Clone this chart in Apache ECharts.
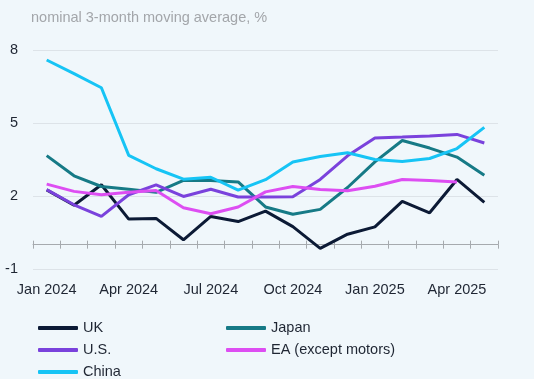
<!DOCTYPE html>
<html>
<head>
<meta charset="utf-8">
<script src="https://cdn.jsdelivr.net/npm/echarts@6/dist/echarts.min.js"></script>
<style>
html,body{margin:0;padding:0;background:#f0f7fb;}
#c{width:534px;height:379px;}
</style>
</head>
<body>
<div id="c"></div>
<script>
const categories = ['Jan 2024','Feb 2024','Mar 2024','Apr 2024','May 2024','Jun 2024','Jul 2024','Aug 2024','Sep 2024','Oct 2024','Nov 2024','Dec 2024','Jan 2025','Feb 2025','Mar 2025','Apr 2025','May 2025'];
const uk    = [2.25, 1.62, 2.46, 1.05, 1.08, 0.20, 1.16, 0.95, 1.38, 0.74, -0.15, 0.43, 0.73, 1.78, 1.31, 2.68, 1.74];
const japan = [3.66, 2.83, 2.39, 2.28, 2.15, 2.64, 2.64, 2.58, 1.55, 1.25, 1.45, 2.35, 3.40, 4.28, 3.97, 3.60, 2.85];
const us    = [2.26, 1.64, 1.16, 2.05, 2.46, 1.98, 2.28, 1.96, 1.96, 1.97, 2.68, 3.65, 4.38, 4.42, 4.47, 4.53, 4.18];
const ea    = [2.49, 2.19, 2.05, 2.15, 2.23, 1.52, 1.27, 1.55, 2.17, 2.39, 2.27, 2.22, 2.40, 2.68, 2.64, 2.58, null];
const china = [7.59, 7.03, 6.45, 3.67, 3.12, 2.69, 2.77, 2.24, 2.67, 3.40, 3.62, 3.78, 3.50, 3.42, 3.54, 3.95, 4.82];
const yTicks = [-1, 2, 5, 8];
const titleText = 'nominal 3-month moving average, %';

const FONT = '"Liberation Sans", Arial, sans-serif';
const chart = echarts.init(document.getElementById('c'), null, {renderer:'canvas'});
const mk = (name, data, color) => ({
  name, type:'line', data, xAxisIndex:0, yAxisIndex:0,
  showSymbol:false, symbol:'none', connectNulls:false,
  lineStyle:{color, width:3}, itemStyle:{color}, z:2
});
const leg = (name, left, top) => ({data:[name], left, top, padding:0, orient:'horizontal',
  itemWidth:40, itemHeight:4, icon:'roundRect',
  textStyle:{fontFamily:FONT, fontSize:14.5, color:'#1f2633', lineHeight:16}});
chart.setOption({
  animation:false,
  backgroundColor:'#f0f7fb',
  title:{text:titleText, left:31, top:10, padding:0,
    textStyle:{fontFamily:FONT, fontSize:14.5, fontWeight:'normal', color:'#a3a6aa'}},
  grid:{left:33, right:36, top:50, bottom:110, containLabel:false, outerBoundsMode:'none'},
  legend:[
    leg('UK', 38, 320), leg('Japan', 226, 320),
    leg('U.S.', 38, 342), leg('EA (except motors)', 226, 342),
    leg('China', 38, 364)
  ],
  xAxis:[
    {type:'category', data:categories, boundaryGap:true, position:'bottom',
     axisLine:{show:false, onZero:false}, axisTick:{show:false},
     axisLabel:{interval:2, margin:13, fontFamily:FONT, fontSize:14.5, color:'#1f2633'}},
    {type:'category', data:categories, boundaryGap:true, position:'bottom',
     axisLine:{show:true, onZero:true, onZeroAxisIndex:0, lineStyle:{color:'#a6aaae', width:1}},
     axisTick:{show:true, inside:false, length:4, interval:0, lineStyle:{color:'#a6aaae', width:1}},
     axisLabel:{show:false}},
    {type:'category', data:categories, boundaryGap:true, position:'bottom',
     axisLine:{show:false, onZero:true, onZeroAxisIndex:1},
     axisTick:{show:true, inside:true, length:4, interval:0, lineStyle:{color:'#a6aaae', width:1}},
     axisLabel:{show:false}}
  ],
  yAxis:[
    {type:'value', min:yTicks[0], max:yTicks[yTicks.length-1], interval:3,
     axisLine:{show:false}, axisTick:{show:false},
     splitLine:{show:true, lineStyle:{color:'#dde3e8', width:1}},
     axisLabel:{margin:15, fontFamily:FONT, fontSize:14.5, color:'#1f2633'}},
    {type:'value', min:yTicks[0], max:yTicks[yTicks.length-1], interval:3, show:false,
     splitLine:{show:false}}
  ],
  series:[
    mk('UK', uk, '#0c1a35'),
    mk('Japan', japan, '#167a86'),
    mk('U.S.', us, '#7a42dc'),
    mk('EA (except motors)', ea, '#dd4ef2'),
    mk('China', china, '#16c4f5')
  ]
});
</script>
</body>
</html>
